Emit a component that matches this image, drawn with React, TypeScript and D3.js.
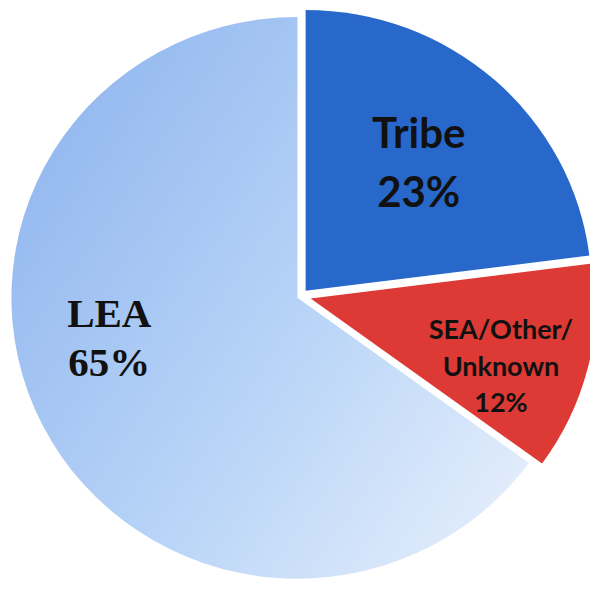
import * as d3 from 'd3';
import * as React from 'react';

const categories = ['Tribe', 'SEA/Other/Unknown', 'LEA'];
const shares = [23, 12, 65];
const labelLines = [['Tribe', '23%'], ['SEA/Other/', 'Unknown', '12%'], ['LEA', '65%']];

const WIDTH = 590;
const HEIGHT = 593;
const CX = 301;
const CY = 296;
const RADIUS = 286;
const SQUASH = 0.982; // the scanned pie is a touch flatter than round

// per slice look: explode distance, label polar offset (deg / px), font
const sliceStyle = [
  { fill: '#2868cb', explode: 7, labelShift: 0, labelR: 178, font: 'Lato, "Open Sans", sans-serif', size: 42, lead: 59, weight: 700 },
  { fill: '#dd3a35', explode: 10, labelShift: 5, labelR: 212, font: 'Lato, "Open Sans", sans-serif', size: 27, lead: 36.5, weight: 700 },
  { fill: 'url(#leaGrad)', explode: 4, labelShift: 15, labelR: 196, font: '"Liberation Serif", "Times New Roman", serif', size: 41, lead: 49, weight: 700 },
];

interface ISlice {
  name: string;
  value: number;
  lines: string[];
}

const data: ISlice[] = categories.map((c, i) => ({ name: c, value: shares[i], lines: labelLines[i] }));

const App = (): JSX.Element => {
  const pie = d3.pie<ISlice>().value((d) => d.value).sort(null);
  const arcs = pie(data);
  const arcGen = d3.arc<d3.PieArcDatum<ISlice>>().innerRadius(0).outerRadius(RADIUS);

  return (
    <svg
      width={WIDTH}
      height={HEIGHT}
      viewBox={`0 0 ${WIDTH} ${HEIGHT}`}
      style={{ position: 'absolute', left: 0, top: 0, background: '#fff' }}
    >
      <defs>
        {/* gradient in slice-local coordinates (origin = pie centre) */}
        <linearGradient id='leaGrad' gradientUnits='userSpaceOnUse' x1='-290' y1='-90' x2='230' y2='260'>
          <stop offset='0' stopColor='#96baf0' />
          <stop offset='0.5' stopColor='#b8d4f7' />
          <stop offset='1' stopColor='#e8f0fc' />
        </linearGradient>
      </defs>
      {arcs.map((a, i) => {
        const st = sliceStyle[i];
        const mid = (a.startAngle + a.endAngle) / 2;
        const dx = Math.sin(mid) * st.explode;
        const dy = -Math.cos(mid) * st.explode;
        return (
          <path
            key={a.data.name}
            d={arcGen(a) || ''}
            fill={st.fill}
            transform={`translate(${CX + dx}, ${CY + dy}) scale(1, ${SQUASH})`}
          />
        );
      })}
      {arcs.map((a, i) => {
        const st = sliceStyle[i];
        const ang = (a.startAngle + a.endAngle) / 2 + (st.labelShift * Math.PI) / 180;
        const lx = CX + Math.sin(ang) * st.labelR;
        const ly = CY - Math.cos(ang) * st.labelR;
        const n = a.data.lines.length;
        const firstBase = ly - ((n - 1) * st.lead) / 2 + st.size * 0.35;
        return (
          <text
            key={`lbl-${a.data.name}`}
            textAnchor='middle'
            fontFamily={st.font}
            fontSize={st.size}
            fontWeight={st.weight}
            fill='#111'
          >
            {a.data.lines.map((ln, j) => (
              <tspan key={j} x={lx} y={firstBase + j * st.lead}>{ln}</tspan>
            ))}
          </text>
        );
      })}
    </svg>
  );
};

export default App;
